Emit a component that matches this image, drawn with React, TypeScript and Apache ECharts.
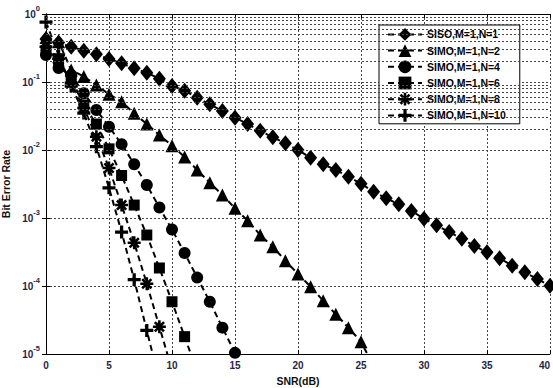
import React, { useEffect, useRef } from 'react';
import * as echarts from 'echarts';

const SNR_DB = [0, 1, 2, 3, 4, 5, 6, 7, 8, 9, 10, 11, 12, 13, 14, 15, 16, 17, 18, 19, 20,
  21, 22, 23, 24, 25, 26, 27, 28, 29, 30, 31, 32, 33, 34, 35, 36, 37, 38, 39, 40];

const BER_SISO_N1 = [0.43, 0.381, 0.33, 0.289, 0.255, 0.218, 0.188, 0.159, 0.137, 0.112, 0.0873,
  0.0745, 0.0588, 0.047, 0.0375, 0.0299, 0.0241, 0.0192, 0.0154, 0.01255, 0.01,
  0.0077, 0.00616, 0.00508, 0.00405, 0.0032, 0.00244, 0.00195, 0.00159, 0.00127, 0.000977,
  0.000781, 0.000623, 0.000496, 0.000388, 0.000313, 0.000255, 0.000199, 0.000159, 0.000127, 0.000101];
const BER_SIMO_N2 = [0.45, 0.392, 0.15, 0.12, 0.0904, 0.0659, 0.0513, 0.0346, 0.0241, 0.0166, 0.01157,
  0.00789, 0.00508, 0.0033, 0.00218, 0.00139, 0.000912, 0.000562, 0.000378, 0.000235, 0.00015,
  9.77e-5, 6.08e-5, 3.84e-5, 2.44e-5, 1.52e-5, 6.6e-6];
const BER_SIMO_N4 = [0.25, 0.16, 0.127, 0.0682, 0.0387, 0.022, 0.0122, 0.00618, 0.00305, 0.00143,
  0.000677, 0.000306, 0.000133, 5.87e-5, 2.44e-5, 1.04e-5];
const BER_SIMO_N6 = [0.29, 0.2, 0.111, 0.0459, 0.0241, 0.0104, 0.00422, 0.00155, 0.000562, 0.000184,
  5.87e-5, 1.8e-5, 5.5e-6];
const BER_SIMO_N8 = [0.33, 0.22, 0.097, 0.0414, 0.0157, 0.00544, 0.00155, 0.000433, 0.000108, 2.52e-5, 5.8e-6];
const BER_SIMO_N10 = [0.76, 0.25, 0.087, 0.035, 0.0112, 0.00278, 0.000622, 0.000124, 2.22e-5, 4e-6];

const SERIES_NAMES = ['SISO,M=1,N=1', 'SIMO,M=1,N=2', 'SIMO,M=1,N=4', 'SIMO,M=1,N=6', 'SIMO,M=1,N=8', 'SIMO,M=1,N=10'];
const SERIES_VALUES = [BER_SISO_N1, BER_SIMO_N2, BER_SIMO_N4, BER_SIMO_N6, BER_SIMO_N8, BER_SIMO_N10];

const MINOR_GRID_BER = [
  2e-5, 3e-5, 4e-5, 5e-5, 6e-5, 7e-5, 8e-5, 9e-5,
  2e-4, 3e-4, 4e-4, 5e-4, 6e-4, 7e-4, 8e-4, 9e-4,
  2e-3, 3e-3, 4e-3, 5e-3, 6e-3, 7e-3, 8e-3, 9e-3,
  2e-2, 3e-2, 4e-2, 5e-2, 6e-2, 7e-2, 8e-2, 9e-2,
  2e-1, 3e-1, 4e-1, 5e-1, 6e-1, 7e-1, 8e-1, 9e-1,
];

const STAR_PATH = 'path://M-1.1,-5.5L1.1,-5.5L1.1,5.5L-1.1,5.5Z M-5.5,-1.1L5.5,-1.1L5.5,1.1L-5.5,1.1Z M4.67,3.11L3.11,4.67L-4.67,-3.11L-3.11,-4.67Z M4.67,-3.11L-3.11,4.67L-4.67,3.11L3.11,-4.67Z';
const PLUS_PATH = 'path://M-1.5,-6L1.5,-6L1.5,6L-1.5,6Z M-6,-1.5L6,-1.5L6,1.5L-6,1.5Z';

const SYMBOLS = ['diamond', 'triangle', 'circle', 'rect', STAR_PATH, PLUS_PATH];
const SYMBOL_SIZES: any[] = [[13, 16], [13, 13], 12, 11, 13, 13];

const FONT = '"Liberation Sans", Arial, Helvetica, sans-serif';
const TICK_COLOR = '#1f2747';
const GRID_LINE = { color: '#444', type: [2, 2] as any, width: 1 };

export default function App() {
  const ref = useRef<HTMLDivElement>(null);
  useEffect(() => {
    if (!ref.current) return;
    const chart = echarts.init(ref.current, null, { renderer: 'svg' });
    const series: any[] = SERIES_NAMES.map((name, i) => ({
      name,
      type: 'line',
      data: SERIES_VALUES[i].map((v, j) => [SNR_DB[j], v]),
      symbol: SYMBOLS[i],
      symbolSize: SYMBOL_SIZES[i],
      itemStyle: { color: '#000' },
      lineStyle: { color: '#000', width: 2, type: [6, 4] },
      clip: true,
      z: 3,
    }));
    series.push({
      type: 'line',
      data: [],
      z: 1,
      markLine: {
        silent: true,
        symbol: ['none', 'none'],
        label: { show: false },
        lineStyle: GRID_LINE,
        data: MINOR_GRID_BER.map((v) => ({ yAxis: v })),
      },
    });
    chart.setOption({
      animation: false,
      backgroundColor: '#fff',
      grid: { left: 46, right: 3, top: 14, bottom: 34, containLabel: false, outerBoundsMode: 'none' },
      legend: {
        data: SERIES_NAMES,
        orient: 'vertical',
        left: 379,
        top: 25,
        padding: [3, 14, 2, 8],
        itemWidth: 34,
        itemHeight: 16,
        itemGap: 3.4,
        backgroundColor: '#fff',
        borderColor: '#000',
        borderWidth: 1,
        borderRadius: 0,
        textStyle: { fontFamily: FONT, fontWeight: 'bold', fontSize: 10.5, color: '#000' },
      },
      xAxis: [
        {
          type: 'value', min: 0, max: 40, interval: 5, position: 'bottom',
          axisLine: { lineStyle: { color: '#000', width: 1 } },
          axisTick: { inside: true, length: 4, lineStyle: { color: '#000' } },
          axisLabel: { fontFamily: FONT, fontWeight: 'bold', fontSize: 10, color: TICK_COLOR, margin: 6, alignMaxLabel: 'right' },
          splitLine: { show: true, lineStyle: GRID_LINE },
          name: 'SNR(dB)', nameLocation: 'middle', nameGap: 21,
          nameTextStyle: { fontFamily: FONT, fontWeight: 'bold', fontSize: 10.5, color: '#111' },
        },
        {
          type: 'value', min: 0, max: 40, interval: 5, position: 'top',
          axisLine: { show: true, lineStyle: { color: '#000', width: 1 } },
          axisTick: { show: true, inside: true, length: 4, lineStyle: { color: '#000' } },
          axisLabel: { show: false },
          splitLine: { show: false },
        },
      ],
      yAxis: [
        {
          type: 'log', logBase: 10, min: 1e-5, max: 1, position: 'left',
          axisLine: { show: true, lineStyle: { color: '#000', width: 1 } },
          axisTick: { show: true, inside: true, length: 4, lineStyle: { color: '#000' } },
          axisLabel: {
            margin: 6,
            formatter: (v: number) => `{b|10}{s|${Math.round(Math.log10(v))}}`,
            rich: {
              b: { fontFamily: FONT, fontWeight: 'bold', fontSize: 10, color: TICK_COLOR, lineHeight: 20 },
              s: { fontFamily: FONT, fontWeight: 'bold', fontSize: 7.5, color: TICK_COLOR, verticalAlign: 'top' },
            },
          },
          splitLine: { show: true, lineStyle: GRID_LINE },
          name: 'Bit Error Rate', nameLocation: 'middle', nameGap: 30,
          nameTextStyle: { fontFamily: FONT, fontWeight: 'bold', fontSize: 10.5, color: '#111' },
        },
        {
          type: 'log', logBase: 10, min: 1e-5, max: 1, position: 'right',
          axisLine: { show: true, lineStyle: { color: '#000', width: 1 } },
          axisTick: { show: true, inside: true, length: 4, lineStyle: { color: '#000' } },
          axisLabel: { show: false },
          splitLine: { show: false },
        },
      ],
      series,
    });
    return () => chart.dispose();
  }, []);
  return <div ref={ref} style={{ position: 'absolute', left: 0, top: 0, width: 553, height: 388, background: '#fff' }} />;
}
